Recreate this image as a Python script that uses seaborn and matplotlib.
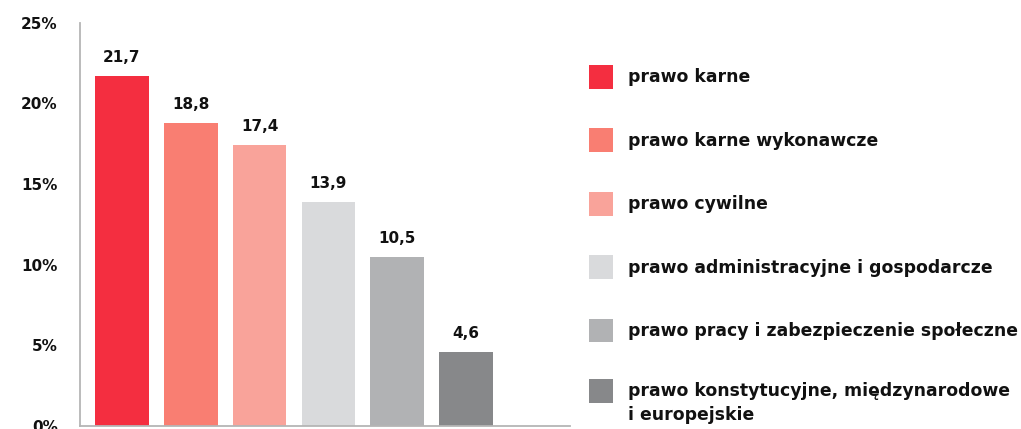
import numpy as np
import pandas as pd
import seaborn as sns
import matplotlib.pyplot as plt
from matplotlib.ticker import FuncFormatter

kategorie = ['prawo karne',
             'prawo karne wykonawcze',
             'prawo cywilne',
             'prawo administracyjne i gospodarcze',
             'prawo pracy i zabezpieczenie społeczne',
             'prawo konstytucyjne, międzynarodowe\ni europejskie']
udzial = [21.7, 18.8, 17.4, 13.9, 10.5, 4.6]
kolory = ['#F42E40', '#F97E72', '#F9A39A', '#D9DADC', '#B1B2B4', '#87888A']
y_ticks = [0, 5, 10, 15, 20, 25]

sns.set_style('white')
plt.rcParams['font.family'] = ['DejaVu Sans']
plt.rcParams['font.weight'] = 'bold'

df = pd.DataFrame({'kategoria': kategorie, 'udzial': udzial})

fig = plt.figure(figsize=(10.21, 4.29), dpi=100)
ax = fig.add_axes([80 / 1021, 3 / 429, 490 / 1021, 403.3 / 429])

sns.barplot(data=df, x='kategoria', y='udzial', hue='kategoria', palette=kolory,
            saturation=1, width=0.78, legend=False, linewidth=0, ax=ax)

ax.set_xlim(-0.61, 6.51)
ax.set_ylim(0, 25)
ax.set_yticks(y_ticks)
ax.yaxis.set_major_formatter(FuncFormatter(lambda v, p: f'{v:.0f}%'))
ax.tick_params(axis='y', length=0, pad=16, labelsize=11, colors='#111111')
ax.set_xticks([])
ax.set_xlabel('')
ax.set_ylabel('')

for s in ['top', 'right']:
    ax.spines[s].set_visible(False)
for s in ['left', 'bottom']:
    ax.spines[s].set_color('#B5B5B5')
    ax.spines[s].set_linewidth(1.3)

for cont in ax.containers:
    ax.bar_label(cont, labels=[f'{v:.1f}'.replace('.', ',') for v in cont.datavalues],
                 padding=8, fontsize=11, fontweight='bold', color='#111111')

# legenda po prawej
leg = ax.legend(handles=list(ax.patches[:6]), labels=kategorie, loc='upper left',
                bbox_to_anchor=(589 / 1021, 1 - 65 / 429), bbox_transform=fig.transFigure,
                frameon=False, fontsize=12.4, handlelength=1.38, handleheight=1.75,
                handletextpad=0.9, labelspacing=2.3, borderpad=0, borderaxespad=0)
for t in leg.get_texts():
    t.set_fontweight('bold')
    t.set_color('#111111')
leg.get_texts()[-1].set_linespacing(1.45)
# kwadrat ostatniej pozycji na wysokosci pierwszej linii
ostatni = leg.legend_handles[-1]
ostatni.set_y(ostatni.get_y() + 10)

plt.savefig('out.png', dpi=100)
